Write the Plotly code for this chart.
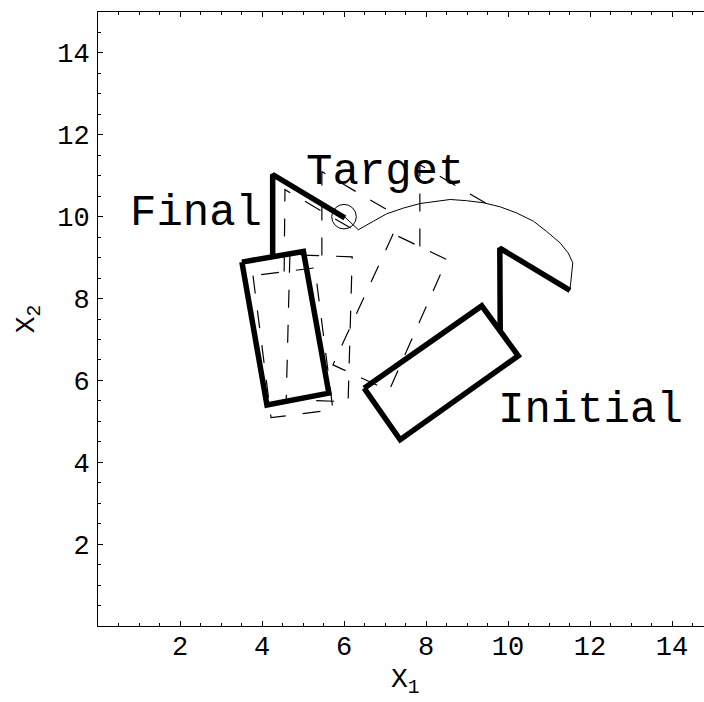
import plotly.graph_objects as go

# ---------------- data ----------------
# Initial configuration (thick)
initial_rect_x = [6.49, 7.37, 10.25, 9.36]
initial_rect_y = [5.81, 4.55, 6.60, 7.82]
initial_arm_x = [9.81, 9.80, 11.51]
initial_arm_y = [7.21, 9.23, 8.20]

# Final configuration (thick)
final_rect_x = [3.51, 4.12, 5.63, 5.01]
final_rect_y = [8.89, 5.40, 5.69, 9.15]
final_arm_x = [4.26, 4.26, 6.02]
final_arm_y = [9.02, 11.03, 9.97]

# Intermediate configurations (dashed)
mid_a_rect_x = [3.78, 4.22, 5.73, 5.29]
mid_a_rect_y = [8.56, 5.09, 5.28, 8.75]
mid_a_arm_x = [4.54, 4.56, 6.32]
mid_a_arm_y = [8.66, 10.66, 9.63]

mid_b_rect_x = [4.68, 4.59, 6.10, 6.20]
mid_b_rect_y = [9.07, 5.53, 5.48, 9.02]
mid_b_arm_x = [5.46, 5.46, 7.22]
mid_b_arm_y = [9.05, 11.10, 10.07]

mid_c_rect_x = [7.20, 5.73, 7.10, 8.51]
mid_c_rect_y = [9.58, 6.38, 5.75, 8.95]
mid_c_arm_x = [7.85, 7.85, 9.61]
mid_c_arm_y = [9.27, 11.27, 10.24]

# End-effector trajectory (thin solid)
traj_x = [11.51, 11.58, 11.47, 11.27, 10.94, 10.62, 10.21, 9.81, 9.40, 8.99,
          8.59, 8.26, 7.85, 7.45, 7.04, 6.72, 6.35, 6.02]
traj_y = [8.20, 8.87, 9.11, 9.36, 9.64, 9.89, 10.09, 10.24, 10.34, 10.39,
          10.42, 10.37, 10.32, 10.21, 10.07, 9.89, 9.68, 9.99]

# Target
target_x, target_y, target_r = 6.0, 10.0, 0.3

# Labels
label_text = ["Final", "Target", "Initial"]
label_x = [2.39, 7.00, 12.02]
label_y = [10.10, 11.10, 5.28]

x_ticks = [2, 4, 6, 8, 10, 12, 14]
y_ticks = [2, 4, 6, 8, 10, 12, 14]

FONT = "Liberation Mono, Courier New, monospace"
DASH = "18px,17px"

fig = go.Figure()


def closed(xs, ys):
    return xs + xs[:1], ys + ys[:1]


dashed = [(mid_a_rect_x, mid_a_rect_y, mid_a_arm_x, mid_a_arm_y),
          (mid_b_rect_x, mid_b_rect_y, mid_b_arm_x, mid_b_arm_y),
          (mid_c_rect_x, mid_c_rect_y, mid_c_arm_x, mid_c_arm_y)]
for rx, ry, ax, ay in dashed:
    cx, cy = closed(rx, ry)
    fig.add_trace(go.Scatter(x=cx, y=cy, mode="lines",
                             line=dict(color="black", width=1.2, dash=DASH),
                             hoverinfo="skip"))
    fig.add_trace(go.Scatter(x=ax, y=ay, mode="lines",
                             line=dict(color="black", width=1.2, dash=DASH),
                             hoverinfo="skip"))

fig.add_trace(go.Scatter(x=traj_x, y=traj_y, mode="lines",
                         line=dict(color="black", width=1), hoverinfo="skip"))

for rx, ry, ax, ay in [(initial_rect_x, initial_rect_y, initial_arm_x, initial_arm_y),
                       (final_rect_x, final_rect_y, final_arm_x, final_arm_y)]:
    cx, cy = closed(rx, ry)
    fig.add_trace(go.Scatter(x=cx, y=cy, mode="lines",
                             line=dict(color="black", width=5.5), hoverinfo="skip"))
    fig.add_trace(go.Scatter(x=ax, y=ay, mode="lines",
                             line=dict(color="black", width=5.5), hoverinfo="skip"))

fig.add_shape(type="circle", xref="x", yref="y",
              x0=target_x - target_r, x1=target_x + target_r,
              y0=target_y - target_r, y1=target_y + target_r,
              line=dict(color="black", width=1))

for t, x, y in zip(label_text, label_x, label_y):
    fig.add_annotation(x=x, y=y, text=t, showarrow=False,
                       font=dict(family=FONT, size=44, color="black"),
                       xanchor="center", yanchor="middle")

fig.add_annotation(xref="paper", yref="paper", x=0.507, y=0, yshift=-55,
                   text="X<sub>1</sub>", showarrow=False,
                   font=dict(family=FONT, size=28, color="black"),
                   xanchor="center", yanchor="middle")
fig.add_annotation(xref="paper", yref="paper", x=-0.115, y=0.50,
                   text="X<sub>2</sub>", showarrow=False, textangle=-90,
                   font=dict(family=FONT, size=28, color="black"),
                   xanchor="center", yanchor="middle")

fig.update_layout(
    width=704, height=702,
    margin=dict(l=98, r=0, t=12, b=76, autoexpand=False),
    paper_bgcolor="white", plot_bgcolor="white",
    showlegend=False,
    font=dict(family=FONT, color="black"),
)
fig.update_xaxes(range=[0, 14.78], showgrid=False, zeroline=False,
                 showline=True, linecolor="black", linewidth=1, mirror="ticks",
                 ticks="inside", ticklen=5, tickwidth=1, tickcolor="black",
                 tickmode="array", tickvals=x_ticks, ticktext=[str(v) for v in x_ticks],
                 tickfont=dict(family=FONT, size=27, color="black"),
                 ticklabelstandoff=-4, automargin=False,
                 minor=dict(ticks="inside", ticklen=3, tickwidth=1, tickcolor="black",
                            dtick=0.5, tick0=0, showgrid=False))
fig.update_yaxes(range=[0, 15], showgrid=False, zeroline=False,
                 showline=True, linecolor="black", linewidth=1, mirror=False,
                 ticks="inside", ticklen=5, tickwidth=1, tickcolor="black",
                 tickmode="array", tickvals=y_ticks, ticktext=[str(v) for v in y_ticks],
                 tickfont=dict(family=FONT, size=27, color="black"),
                 ticklabelstandoff=2, automargin=False,
                 minor=dict(ticks="inside", ticklen=3, tickwidth=1, tickcolor="black",
                            dtick=0.5, tick0=0, showgrid=False))

fig.write_html("out.html",
               config={"displayModeBar": False},
               post_script="document.body.style.margin='0px';"
                           "document.body.style.overflow='hidden';")
